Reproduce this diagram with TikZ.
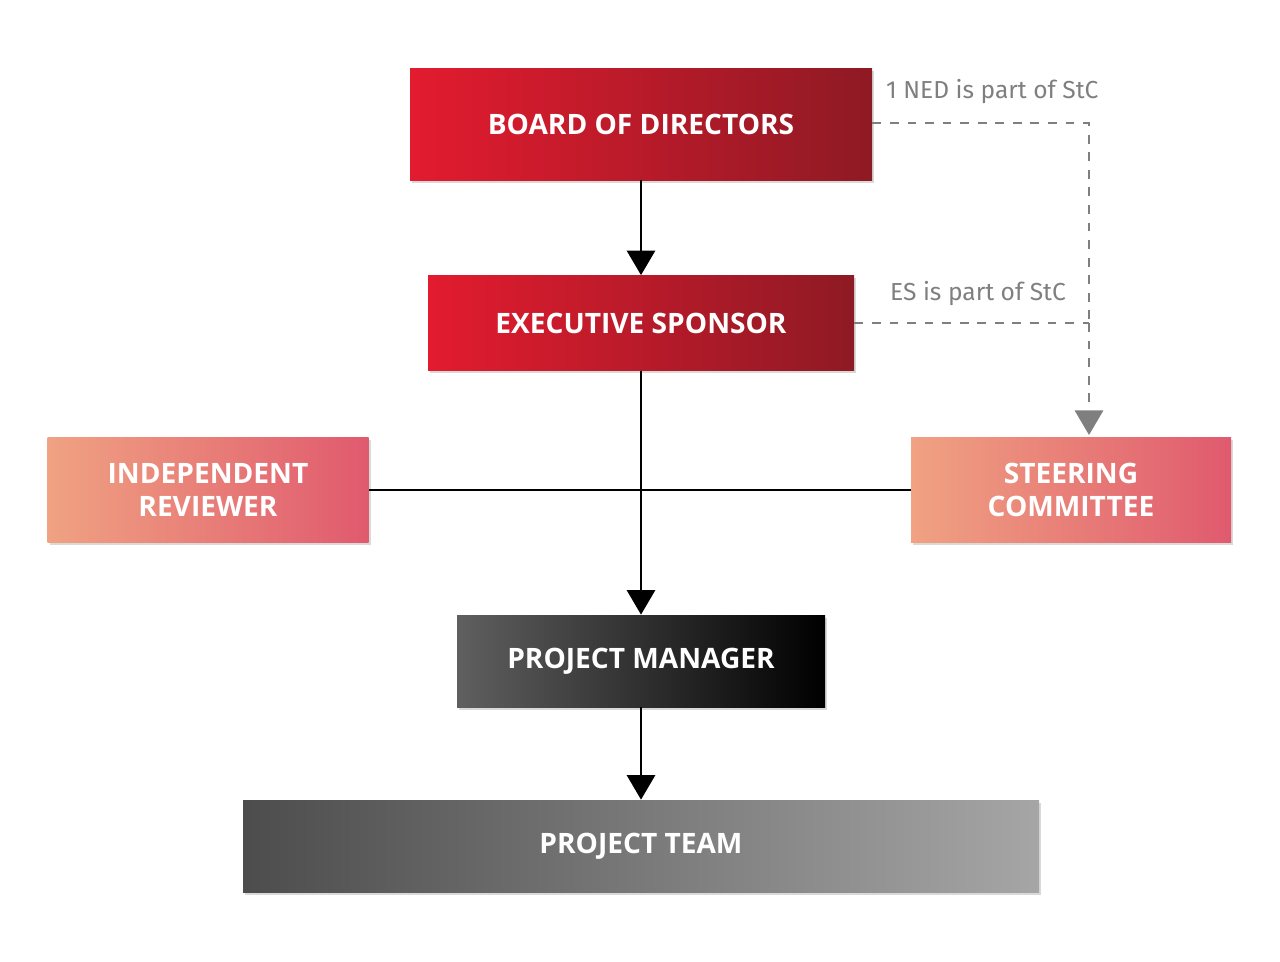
\documentclass[tikz,border=0pt]{standalone}
\usepackage{fontspec}
\setmainfont{Open Sans}
\newfontfamily\notefont{Fira Sans}
\usetikzlibrary{arrows.meta,shadows}
\definecolor{bodred}{HTML}{E31B2F}
\definecolor{bodredd}{HTML}{8E1A24}
\definecolor{salmon}{HTML}{F0A282}
\definecolor{pinkred}{HTML}{E05A6E}
\definecolor{notegray}{HTML}{7F7F7F}
\begin{document}
\begin{tikzpicture}[x=0.02cm,y=-0.02cm,
    box/.style={rectangle, inner sep=0pt, text=white, align=center,
      font=\fontsize{16}{19}\selectfont\bfseries,
      drop shadow={shadow xshift=1.2pt, shadow yshift=-1.5pt, opacity=0.3}},
    redbox/.style={box, left color=bodred, right color=bodredd},
    pinkbox/.style={box, left color=salmon, right color=pinkred},
    flow/.style={line width=1.6pt, -{Triangle[length=14pt,width=16pt]}},
    note/.style={notegray, line width=1.6pt, dash pattern=on 5pt off 5pt},
    notetext/.style={notegray, font=\notefont\fontsize{14}{16}\selectfont}]
   \useasboundingbox (0,0) rectangle (1280,961);

   \node[redbox, minimum width=462*0.02cm, minimum height=112*0.02cm] (board) at (641,124) {BOARD OF DIRECTORS};
   \node[redbox, minimum width=426*0.02cm, minimum height=95*0.02cm] (exec) at (641,323) {EXECUTIVE SPONSOR};
   \node[pinkbox, minimum width=321*0.02cm, minimum height=105*0.02cm] (indep) at (208,490) {INDEPENDENT\\REVIEWER};
   \node[pinkbox, minimum width=320*0.02cm, minimum height=105*0.02cm] (steer) at (1071,490) {STEERING\\COMMITTEE};
   \node[box, left color=gray!75!black, right color=black, minimum width=368*0.02cm, minimum height=92*0.02cm] (pm) at (641,661) {PROJECT MANAGER};
   \node[box, left color=black!70, right color=black!35, minimum width=796*0.02cm, minimum height=92*0.02cm] (team) at (641,846) {PROJECT TEAM};

   \coordinate (corner) at (1089,123);
   \coordinate (join) at (1089,323);
   \coordinate (steertop) at (1089,435);

   \draw[line width=1.6pt] (indep) -- (steer);
   \draw[flow] (board) -- (exec);
   \draw[flow] (exec) -- (pm);
   \draw[flow] (pm) -- (team);

   \draw[note] (board.east |- corner) -- (corner) -- (join);
   \draw[note] (exec.east) -- (join);
   \draw[note, -{Triangle[length=14pt,width=16pt]}] (join) -- (steertop);

   \node[notetext, anchor=south west] (nednote) at (880,110) {1 NED is part of StC};
   \node[notetext, anchor=south west] (esnote) at (884,312) {ES is part of StC};
 \end{tikzpicture}
\end{document}
